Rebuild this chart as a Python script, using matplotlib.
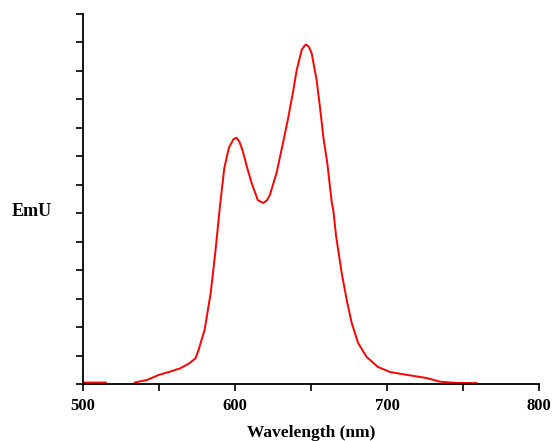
import matplotlib.pyplot as plt
import numpy as np

# emission spectrum (nm, arbitrary units)
wavelength = [500, 505, 510, 515, 524,
              534, 542, 550, 557, 564, 570, 574, 576, 578, 580, 584, 587, 590,
              593, 596, 599, 601, 603, 605, 608, 611, 615, 618.5, 621, 623,
              627.5, 631.7, 635, 638.4, 640.6, 643.9, 646, 647, 648.5, 650.4,
              653.7, 655.9, 658.1, 660.7, 663.6, 664.7, 666.5, 670.2, 673.5,
              676.8, 681, 686.6, 694, 702, 713, 726, 735, 745, 759]
emu = [0.05, 0.05, 0.05, 0.05, np.nan,
       0.05, 0.14, 0.32, 0.43, 0.55, 0.73, 0.9, 1.19, 1.55, 1.9, 3.2, 4.6, 6.2,
       7.6, 8.3, 8.6, 8.65, 8.5, 8.2, 7.6, 7.05, 6.46, 6.36, 6.45, 6.65,
       7.45, 8.5, 9.35, 10.33, 11.03, 11.74, 11.9, 11.92, 11.85, 11.63,
       10.68, 9.73, 8.68, 7.77, 6.4, 6.1, 5.2, 3.9, 2.95,
       2.14, 1.44, 0.95, 0.6, 0.42, 0.32, 0.21, 0.08, 0.04, 0.03]

x_ticks = [500, 600, 700, 800]

fig = plt.figure(figsize=(5.52, 4.41), dpi=100)
ax = fig.add_axes([0.1504, 0.1293, 0.8260, 0.8390])

ax.plot(wavelength, emu, color='#ff0000', lw=1.4)

ax.set_xlim(500, 800)
ax.set_ylim(0, 13)
ax.set_xticks(x_ticks)
ax.set_xticks([550, 650, 750], minor=True)
ax.set_yticks(range(0, 14))
ax.set_yticklabels([])

for s in ['top', 'right']:
    ax.spines[s].set_visible(False)
for s in ['left', 'bottom']:
    ax.spines[s].set_linewidth(1.3)

ax.tick_params(axis='both', which='both', direction='out', length=5, width=1.2)
ax.tick_params(axis='x', pad=5)
for lab in ax.get_xticklabels():
    lab.set_fontfamily('Liberation Serif')
    lab.set_fontweight('bold')
    lab.set_fontsize(12)

ax.set_xlabel('Wavelength (nm)', fontfamily='Liberation Serif', fontweight='bold',
              fontsize=12.5, labelpad=8)
ax.set_ylabel('EmU', fontfamily='Liberation Serif', fontweight='bold',
              fontsize=13, rotation=0, labelpad=0, va='center', ha='center')
ax.yaxis.set_label_coords(-0.112, 0.465)

fig.savefig('out.png', dpi=100)
